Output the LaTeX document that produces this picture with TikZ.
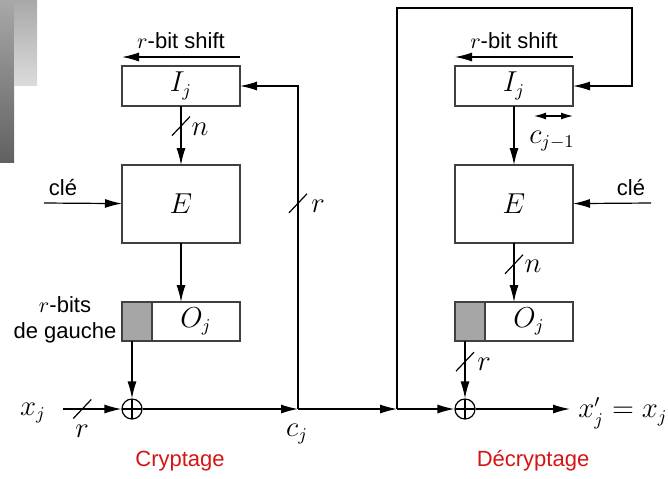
\documentclass[tikz,border=0pt]{standalone}
\usepackage[no-math]{fontspec}
\setmainfont{Liberation Sans}
\usetikzlibrary{positioning}
\usetikzlibrary{calc}
\usetikzlibrary{arrows.meta}
\usetikzlibrary{decorations.markings}
\definecolor{labelred}{RGB}{214,20,20}

\begin{document}
\begin{tikzpicture} [
    x=0.5pt, y=-0.5pt,             % one unit = one pixel of the sheet
    font=\fontsize{11}{13}\selectfont,
    ]
% -------------------------------------------------
\tikzset{
  box/.style={draw=black!75, line width=0.6pt, outer sep=0pt, inner sep=0pt, minimum width=59pt, minimum height=20pt, math},
  grey/.style={box, fill=black!35, minimum width=15pt},
  math/.style={font=\fontsize{13.5}{16}\selectfont},
  xor/.style={draw, circle, line width=0.6pt, minimum size=10pt, inner sep=0pt,
    path picture={\draw (path picture bounding box.north) -- (path picture bounding box.south)
                        (path picture bounding box.west) -- (path picture bounding box.east);}},
  line/.style={draw, line width=0.6pt, -{Latex[length=8.5pt,width=4.5pt]}},
  bus/.style={postaction={decorate, decoration={markings, mark=at position #1 with
    {\pgftransformresetnontranslations \draw[-, line width=0.6pt] (-4.5pt,-4.75pt) -- (4.5pt,4.75pt);}}}},
  title/.style={text=labelred, font=\fontsize{11}{13}\selectfont}
}
    \useasboundingbox (0,0) rectangle (668,478);

    % side bars of the slide
    \shade[top color=black!34, bottom color=black!62] (0,0) rectangle (14,162);
    \shade[top color=black!34, bottom color=black!14] (14,0) rectangle (37,85);

    % ---- Cryptage
    \node [box] (ia) at (181,86) {$I_j$};
    \node [box, minimum height=39pt, below=29.5pt of ia] (ea) {$E$};
    \node [grey, minimum height=19.5pt] (ga) at (137,321.5) {};
    \node [box, minimum width=44pt, minimum height=19.5pt, right=0pt of ga] (oa) {$O_j$};
    \node [xor] (xa) at (132,409) {};

    % ---- Decryptage
    \node [box] (ib) at (514,86) {$I_j$};
    \node [box, minimum height=39pt, below=29.5pt of ib] (eb) {$E$};
    \node [grey, minimum height=19.5pt] (gb) at (470,321.5) {};
    \node [box, minimum width=44pt, minimum height=19.5pt, right=0pt of gb] (ob) {$O_j$};
    \node [xor] (xb) at (465,409) {};

    \coordinate (ina) at (63,409);
    \coordinate (ca) at (298,409);
    \coordinate (cb) at (397,409);
    \coordinate (tr) at (632,8);
    \coordinate (out) at (570,409);
    \coordinate (ka) at (44,203);
    \coordinate (kb) at (651,203);

    % labels
    \node (sa) at (181,41) {$r$-bit shift};
    \node (sb) at (514,41) {$r$-bit shift};
    \node [math] (na) at (200,129) {$n$};
    \node [math] (nb) at (533,266) {$n$};
    \node (kla) at (63,187) {clé};
    \node (klb) at (631,187) {clé};
    \node [align=center] (rg) at (65,320) {$r$-bits\\de gauche};
    \node [math] (xin) at (33,413) {$x_j$};
    \node [math] (ra) at (82,431) {$r$};
    \node [math] (rc) at (318,206) {$r$};
    \node [math] (rb) at (484,364) {$r$};
    \node [math] (cj) at (297,434) {$c_j$};
    \node [math] (cjm) at (552,141) {$c_{j-1}$};
    \node [math, anchor=west, inner sep=0pt] (xout) at (578,413) {$x'_j = x_j$};
    \node [title] (tca) at (180,461) {Cryptage};
    \node [title] (tcb) at (533,461) {Décryptage};

    \path [line] ([yshift=4.5pt]ia.north east) -- ([yshift=4.5pt]ia.north west);   % shift left
    \path [line] ([yshift=4.5pt]ib.north east) -- ([yshift=4.5pt]ib.north west);   % shift right
    \path [line, bus=0.34] (ia) -- (ea);
    \path [line] (ka) -- (ea);
    \path [line] (ea.south) -- (ea.south |- oa.north);
    \path [line] (ga.south -| xa) -- (xa);
    \path [line, bus=0.33] (ina) -- (xa);
    \path [line] (xa) -- (ca);
    \path [line, bus=0.54] (ca) |- (ia.east);                 % feedback c_j
    \path [line] (ca) -- (cb);
    \path [line] (cb) |- (tr) |- (ib.east);                   % loop over the top
    \path [line] (cb) -- (xb);
    \path [line] (xb) -- (out);

    \path [line] (ib) -- (eb);
    \path [line] (kb) -- (eb);
    \path [line, bus=0.36] (eb.south) -- (eb.south |- ob.north);
    \path [line, bus=0.36] (gb.south -| xb) -- (xb);
    \draw [line width=0.6pt, {Latex[length=6pt,width=3.5pt]}-{Latex[length=6pt,width=3.5pt]}]
        ([yshift=-5pt]ib.south east) -- ++(-39,0);            % c_{j-1}
\end{tikzpicture}
\end{document}
